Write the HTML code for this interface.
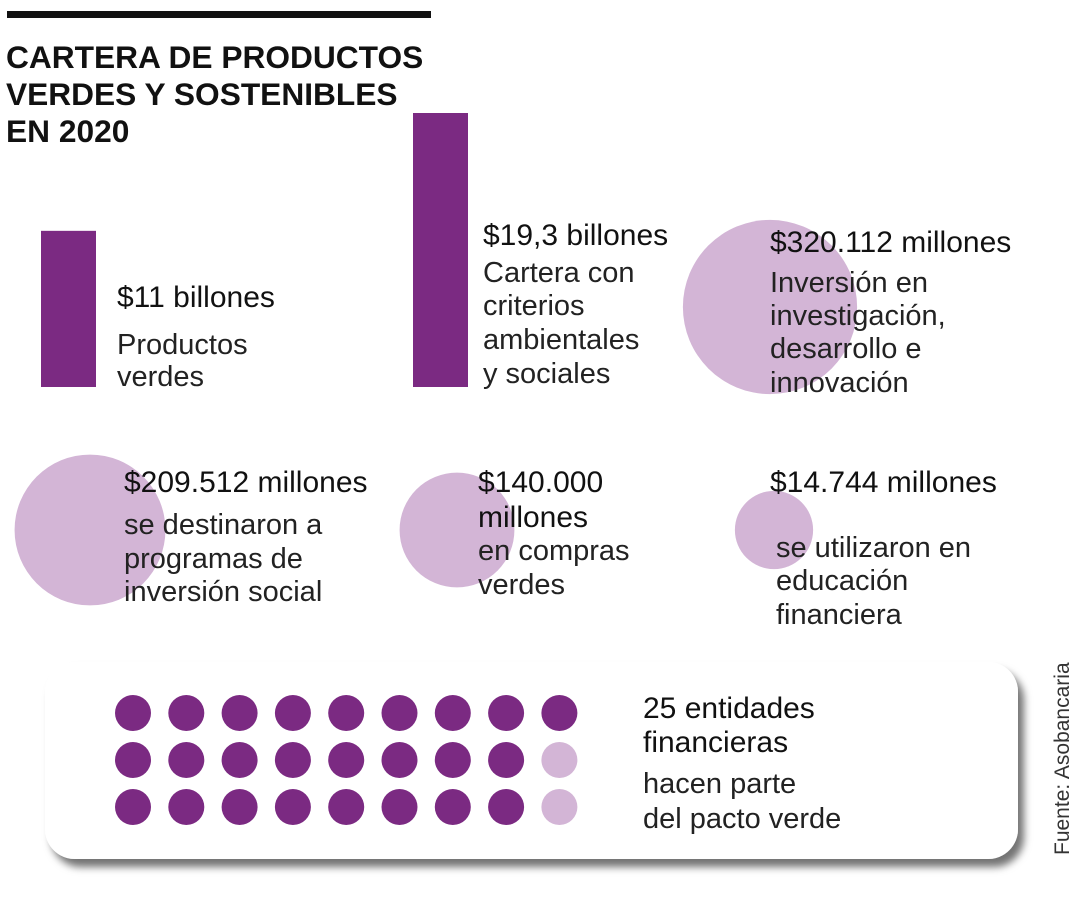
<!DOCTYPE html>
<html><head><meta charset="utf-8"><style>
html,body{margin:0;padding:0;background:#fff;}
svg{display:block;font-family:"Liberation Sans",sans-serif;}
.v{font-size:30px;fill:#111;}
.d{font-size:29px;fill:#222;}
</style></head><body>
<svg width="1080" height="900" viewBox="0 0 1080 900">
<defs><filter id="sh" x="-5%" y="-10%" width="115%" height="130%"><feDropShadow dx="6" dy="8" stdDeviation="4" flood-color="#000" flood-opacity="0.55"/></filter></defs>
<rect x="7" y="11" width="424" height="7" fill="#111"/>
<g font-weight="bold" font-size="31.7" fill="#111">
<text x="6" y="68">CARTERA DE PRODUCTOS</text>
<text x="6" y="105">VERDES Y SOSTENIBLES</text>
<text x="6" y="142">EN 2020</text>
</g>
<g id="bars"></g>
<g id="circles"></g>
<g>
<text class="v" x="117" y="307">$11 billones</text>
<text class="d" x="117" y="354">Productos</text><text class="d" x="117" y="386">verdes</text></g>
<g>
<text class="v" x="483" y="245">$19,3 billones</text>
<text class="d" x="483" y="282">Cartera con</text><text class="d" x="483" y="315">criterios</text>
<text class="d" x="483" y="349">ambientales</text><text class="d" x="483" y="383">y sociales</text></g>
<g>
<text class="v" x="770" y="252">$320.112 millones</text>
<text class="d" x="770" y="292">Inversión en</text><text class="d" x="770" y="325">investigación,</text>
<text class="d" x="770" y="358">desarrollo e</text><text class="d" x="770" y="392">innovación</text></g>
<g>
<text class="v" x="124" y="492">$209.512 millones</text>
<text class="d" x="124" y="534">se destinaron a</text><text class="d" x="124" y="568">programas de</text>
<text class="d" x="124" y="601">inversión social</text></g>
<g>
<text class="v" x="478" y="492">$140.000</text><text class="v" x="478" y="527">millones</text>
<text class="d" x="478" y="560">en compras</text><text class="d" x="478" y="594">verdes</text></g>
<g>
<text class="v" x="770" y="492">$14.744 millones</text>
<text class="d" x="776" y="557">se utilizaron en</text><text class="d" x="776" y="590">educación</text>
<text class="d" x="776" y="624">financiera</text></g>
<rect x="45" y="662" width="973" height="197" rx="30" fill="#fff" filter="url(#sh)"/>
<g id="dots"></g>
<g>
<text class="v" x="643" y="718">25 entidades</text><text class="v" x="643" y="752">financieras</text>
<text class="d" x="643" y="793">hacen parte</text><text class="d" x="643" y="828">del pacto verde</text></g>
<text x="1069" y="855" transform="rotate(-90 1069 855)" font-size="21" fill="#333">Fuente: Asobancaria</text>
</svg>
<script>
const barLabels=["Productos verdes","Cartera con criterios"];
const barValues=[11,19.3];
const circleLabels=["Inversión I+D+i","Inversión social","Compras verdes","Educación financiera"];
const circleValues=[320112,209512,140000,14744];
const entitiesTotal=27;
const entitiesCount=25;
const NS="http://www.w3.org/2000/svg";
const DARK="#7b2a82",LIGHT="#d3b5d6";
const barX=[41,413],barBase=387,barW=55;
const yScale=v=>v*(274/19.3);
const bars=document.getElementById('bars');
barValues.forEach((v,i)=>{const r=document.createElementNS(NS,'rect');
r.setAttribute('x',barX[i]);r.setAttribute('y',barBase-yScale(v));
r.setAttribute('width',barW);r.setAttribute('height',yScale(v));r.setAttribute('fill',DARK);


bars.appendChild(r);});
const cPos=[[770,307],[90,530],[457,530],[774,530]];
const rScale=v=>26+0.108*Math.sqrt(v)-(v>100000&&v<180000?9:0);
const circles=document.getElementById('circles');
circleValues.forEach((v,i)=>{const c=document.createElementNS(NS,'circle');
c.setAttribute('cx',cPos[i][0]);c.setAttribute('cy',cPos[i][1]);c.setAttribute('r',rScale(v));c.setAttribute('fill',LIGHT);


circles.appendChild(c);});
const dots=document.getElementById('dots');
const cols=Math.ceil(entitiesTotal/3),rows=3;
for(let c=0;c<cols;c++){for(let r=0;r<rows;r++){
 const d=document.createElementNS(NS,'circle');
 d.setAttribute('cx',133+c*53.3);d.setAttribute('cy',713+r*47);d.setAttribute('r',18);
 const order=(c<cols-1)?(r*(cols-1)+c):((cols-1)*rows+r);
 d.setAttribute('fill',order<entitiesCount?DARK:LIGHT);
 
 
 dots.appendChild(d);}}
</script>
</body></html>
